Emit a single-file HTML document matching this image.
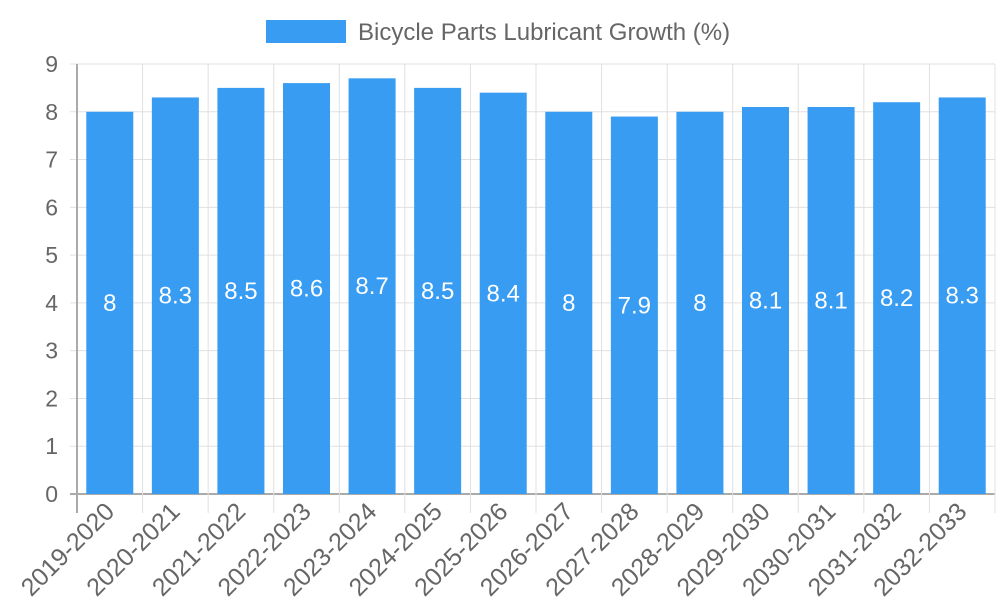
<!DOCTYPE html>
<html><head><meta charset="utf-8"><style>body{margin:0;background:#fff}svg{display:block;font-family:"Liberation Sans",sans-serif}</style></head>
<body>
<svg id="c" width="1000" height="600">
<rect x="266" y="20" width="80" height="23" fill="#379cf2"/>
<text x="358" y="40" font-size="24" fill="#666">Bicycle Parts Lubricant Growth (%)</text>
</svg>
<script>
const categories=["2019-2020","2020-2021","2021-2022","2022-2023","2023-2024","2024-2025","2025-2026","2026-2027","2027-2028","2028-2029","2029-2030","2030-2031","2031-2032","2032-2033"];
const values=[8,8.3,8.5,8.6,8.7,8.5,8.4,8,7.9,8,8.1,8.1,8.2,8.3];
const yTicks=[0,1,2,3,4,5,6,7,8,9];
const svg=document.getElementById('c'),NS='http://www.w3.org/2000/svg';
const L=77,R=995,T=64,B=494,yMax=9;
const bw=(R-L)/categories.length;
const y=v=>B-(v/yMax)*(B-T);
const x=i=>L+i*bw;
function mk(t,a,p){const e=document.createElementNS(NS,t);for(const k in a)e.setAttribute(k,a[k]);(p||svg).appendChild(e);return e;}
yTicks.forEach(t=>{
 const g=mk('line',{x1:70,x2:R,y1:y(t),y2:y(t),stroke:t===0?'#aaa':'#e0e0e0','stroke-width':t===0?2:1});
 
 
 const l=mk('text',{x:58,y:y(t)+8,'font-size':23,fill:'#666','text-anchor':'end'});l.textContent=t;
 
 
});
for(let i=0;i<=categories.length;i++){
 const g=mk('line',{x1:x(i),x2:x(i),y1:T,y2:513,stroke:i===0?'#aaa':'#e0e0e0','stroke-width':i===0?2:1});
 
 
}
categories.forEach((c,i)=>{
 const cx=x(i)+bw/2,v=values[i];
 const r=mk('rect',{x:cx-23.5,y:y(v),width:47,height:B-y(v),fill:'#379cf2'});
 
 
 const vl=mk('text',{x:cx,y:(y(v)+B)/2+8,'font-size':24,fill:'#fff','text-anchor':'middle'});vl.textContent=v;
 
 
 const xl=mk('text',{x:cx+6,y:513,'font-size':25,fill:'#666','text-anchor':'end',transform:`rotate(-45 ${cx+6} 513)`});xl.textContent=c;
 
 
});
</script>
</body></html>
